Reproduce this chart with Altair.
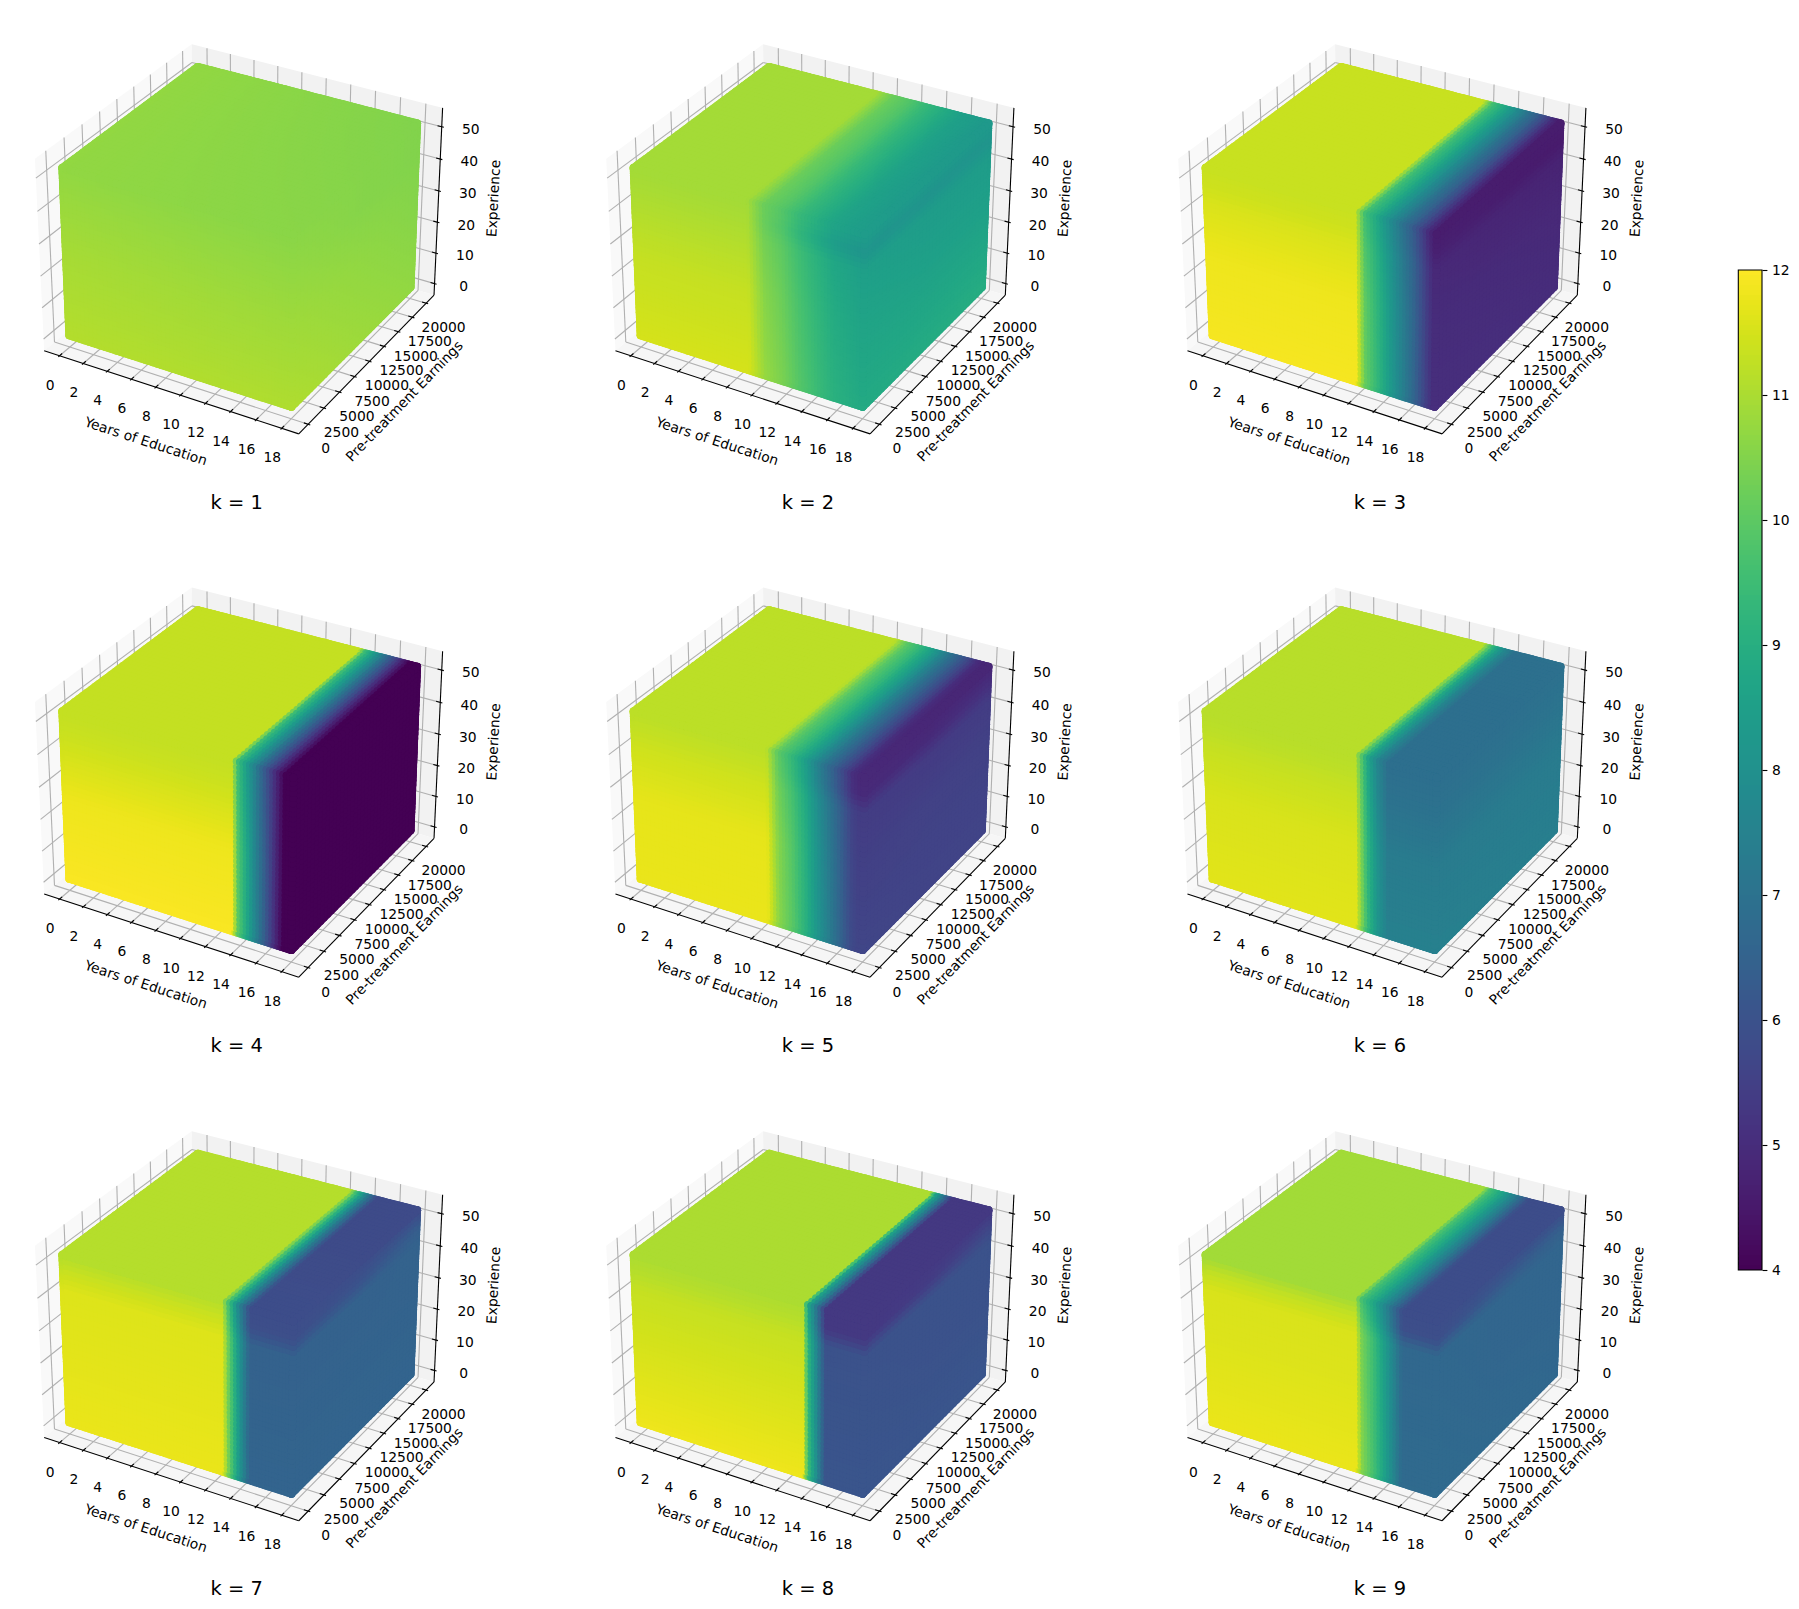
import numpy as np
import pandas as pd
import altair as alt

alt.data_transformers.disable_max_rows()

FONT = "DejaVu Sans"
KS = [1, 2, 3, 4, 5, 6, 7, 8, 9]
EDU_TICKS = [0, 2, 4, 6, 8, 10, 12, 14, 16, 18]
EARN_TICKS = [0, 2500, 5000, 7500, 10000, 12500, 15000, 17500, 20000]
EXP_TICKS = [0, 10, 20, 30, 40, 50]
CBAR_TICKS = [4, 5, 6, 7, 8, 9, 10, 11, 12]
EDU_MAX, EARN_MAX, EXP_MAX = 18, 20000, 52

# Share of the low-education level left at each education knot, one list per k
EDU_KNOTS = {
    1: [0, 18], 2: [0, 9.2, 10.5, 11.9, 13.2, 14.5, 15.9, 18],
    3: [0, 12, 12.7, 13.7, 15, 16.4, 17.6, 18],
    4: [0, 13.5, 14, 14.7, 15.6, 16.5, 17.2, 17.5, 18],
    5: [0, 10.7, 11.6, 12.7, 13.7, 14.8, 15.9, 17.2, 17.7, 18],
    6: [0, 12, 12.4, 12.9, 13.7, 14.5, 18], 7: [0, 12.8, 13.2, 13.6, 14.1, 14.9, 18],
    8: [0, 13.5, 13.9, 14.4, 15.2, 18], 9: [0, 12, 12.5, 13.5, 14.5, 15.6, 18],
}
EDU_SHARE = {
    1: [1, 0], 2: [1, 1, .717, .585, .396, .245, .094, 0],
    3: [1, 1, .745, .62, .44, .25, .045, 0],
    4: [1, 1, .75, .6, .4, .2, .05, 0, 0],
    5: [1, 1, .81, .70, .57, .39, .23, .03, 0, 0],
    6: [1, 1, .75, .46, .17, 0, 0], 7: [1, 1, .75, .56, .32, 0, 0],
    8: [1, 1, .6, .39, 0, 0], 9: [1, 1, .755, .55, .3, 0, 0],
}
EXP_KNOTS = [0, 26, 42, 47, 52]
EARN_KNOTS = [0, 10000, 20000]
# Level at low education, by experience knot
LOW_EDU = {
    1: [11.1, 10.95, 10.8, 10.75, 10.7], 2: [11.5, 11.3, 11.05, 10.98, 10.92],
    3: [11.9, 11.8, 11.55, 11.42, 11.35], 4: [11.95, 11.8, 11.45, 11.35, 11.3],
    5: [11.75, 11.7, 11.42, 11.3, 11.2], 6: [11.65, 11.55, 11.32, 11.2, 11.15],
    7: [11.75, 11.65, 11.6, 11.38, 11.12], 8: [11.8, 11.5, 11.32, 11.15, 11.02],
    9: [11.75, 11.6, 11.55, 11.3, 10.9],
}
# Level at high education: rows by experience knot, columns by earnings knot
HIGH_EDU = {
    1: [[11.05, 10.85, 10.7], [10.85, 10.7, 10.55], [10.7, 10.55, 10.5], [10.65, 10.55, 10.5], [10.6, 10.55, 10.5]],
    2: [[8.85, 8.9, 8.95], [8.65, 8.55, 8.55], [8.5, 8.4, 8.4], [8.15, 8.1, 8.15], [8.4, 8.35, 8.3]],
    3: [[5.05, 5.05, 5.0], [5.0, 4.95, 4.9], [4.9, 4.8, 4.75], [4.7, 4.6, 4.55], [4.6, 4.6, 4.6]],
    4: [[4, 4, 4], [4, 4, 4], [4, 4, 4], [4, 4, 4], [4, 4, 4]],
    5: [[5.65, 5.6, 5.6], [5.5, 5.55, 5.55], [5.4, 5.35, 5.4], [4.95, 4.95, 5.1], [4.9, 4.85, 4.85]],
    6: [[7.45, 7.4, 7.4], [7.3, 7.3, 7.3], [7.0, 7.0, 7.05], [6.95, 6.95, 7.0], [6.9, 6.9, 6.95]],
    7: [[6.55, 6.55, 6.55], [6.5, 6.5, 6.5], [6.45, 6.45, 6.5], [5.9, 6.0, 6.35], [5.85, 5.8, 5.8]],
    8: [[6.1, 6.1, 6.1], [6.05, 6.0, 6.0], [6.0, 6.0, 6.0], [5.3, 5.4, 5.7], [5.3, 5.3, 5.3]],
    9: [[6.75, 6.7, 6.65], [6.7, 6.6, 6.6], [6.65, 6.6, 6.6], [5.9, 6.2, 6.4], [5.85, 5.85, 5.85]],
}

# 3D view: elevation 30, azimuth -60, distance 10, box 4:4:3
MARGIN = 0.05 + 1.1 / 48
LIM = np.array([[-MARGIN * m, (1 + MARGIN) * m] for m in (EDU_MAX, EARN_MAX, EXP_MAX)])
DELTA = np.array([1.1 * m / 12 for m in (EDU_MAX, EARN_MAX, EXP_MAX)])
ASPECT = np.array([1.1905, 1.1905, 0.8929])
U = np.array([0.8660254, 0.5, 0.0])
V = np.array([-0.25, 0.4330127, 0.8660254])
W = np.array([0.4330127, -0.75, 0.5])
PX = 2450.0


def project(x, y, z):
    pts = [(np.asarray(c, float) - LIM[i, 0]) / (LIM[i, 1] - LIM[i, 0]) - 0.5 for i, c in enumerate((x, y, z))]
    p = [pts[i] * ASPECT[i] for i in range(3)]
    d = 10 - sum(W[i] * p[i] for i in range(3))
    return sum(U[i] * p[i] for i in range(3)) / d, sum(V[i] * p[i] for i in range(3)) / d, d


X0, X1, Y0, Y1, Z0, Z1 = LIM[0, 0], LIM[0, 1], LIM[1, 0], LIM[1, 1], LIM[2, 0], LIM[2, 1]


def pane(corners):
    xs, ys, _ = project(*zip(*corners))
    n = len(xs)
    rows = []
    for xv in sorted(xs):
        hits = []
        for i in range(n):
            a, b = i, (i + 1) % n
            lo, hi = min(xs[a], xs[b]), max(xs[a], xs[b])
            if lo - 1e-12 <= xv <= hi + 1e-12:
                t = 0 if hi - lo < 1e-12 else (xv - xs[a]) / (xs[b] - xs[a])
                hits.append(ys[a] + t * (ys[b] - ys[a]))
        rows.append({"X": xv, "T": max(hits), "B": min(hits)})
    return pd.DataFrame(rows)


def segments(pairs):
    rows = []
    for a, b in pairs:
        xa, ya, _ = project(*a)
        xb, yb, _ = project(*b)
        rows.append({"X": float(xa), "Y": float(ya), "X2": float(xb), "Y2": float(yb)})
    return pd.DataFrame(rows)


PANE_LEFT = pane([(X0, Y0, Z0), (X0, Y0, Z1), (X0, Y1, Z1), (X0, Y1, Z0)])
PANE_BACK = pane([(X0, Y1, Z0), (X0, Y1, Z1), (X1, Y1, Z1), (X1, Y1, Z0)])
PANE_FLOOR = pane([(X0, Y0, Z0), (X1, Y0, Z0), (X1, Y1, Z0), (X0, Y1, Z0)])

grid_pairs = []
for t in EDU_TICKS:
    grid_pairs += [((t, Y0, Z0), (t, Y1, Z0)), ((t, Y1, Z0), (t, Y1, Z1))]
for t in EARN_TICKS:
    grid_pairs += [((X1, t, Z0), (X0, t, Z0)), ((X0, t, Z0), (X0, t, Z1))]
for t in EXP_TICKS:
    grid_pairs += [((X0, Y0, t), (X0, Y1, t)), ((X0, Y1, t), (X1, Y1, t))]
GRID = segments(grid_pairs)

axis_pairs = [((X0, Y0, Z0), (X1, Y0, Z0)), ((X1, Y0, Z0), (X1, Y1, Z0)), ((X1, Y1, Z0), (X1, Y1, Z1))]
for t in EDU_TICKS:
    axis_pairs.append(((t, Y0 - 0.1 * DELTA[1], Z0), (t, Y0 + 0.2 * DELTA[1], Z0)))
for t in EARN_TICKS:
    axis_pairs.append(((X1 + 0.1 * DELTA[0], t, Z0), (X1 - 0.2 * DELTA[0], t, Z0)))
for t in EXP_TICKS:
    axis_pairs.append(((X1 + 0.1 * DELTA[0], Y1, t), (X1 - 0.2 * DELTA[0], Y1, t)))
AXES = segments(axis_pairs)


def labels(points, texts, off_x, off_y):
    """Text rows placed at projected 3D anchors, moved off the axis by a pixel offset."""
    xs, ys, _ = project(*zip(*points))
    return pd.DataFrame({"X": xs + off_x / PX, "Y": ys - off_y / PX, "t": texts})


EDU_LABELS = labels([(t, Y0, Z0) for t in EDU_TICKS], [str(t) for t in EDU_TICKS], -9.5, 30.0)
EARN_LABELS = labels([(X1, t, Z0) for t in EARN_TICKS], [str(t) for t in EARN_TICKS], 17.5, 25.0)
EXP_LABELS = labels([(X1, Y1, t) for t in EXP_TICKS], [str(t) for t in EXP_TICKS], 29.0, 3.3)
EDU_TITLE = labels([(0.5 * (X0 + X1), Y0, Z0)], ["Years of Education"], -22.4, 50.8)
EARN_TITLE = labels([(X1, 0.5 * (Y0 + Y1), Z0)], ["Pre-treatment Earnings"], 35.4, 40.3)
EXP_TITLE = labels([(X1, Y1, 0.5 * (Z0 + Z1))], ["Experience"], 56.0, -5.0)


def level(k, edu, earn, exp):
    share = np.interp(edu, EDU_KNOTS[k], EDU_SHARE[k])
    low = np.interp(exp, EXP_KNOTS, LOW_EDU[k])
    table = np.array(HIGH_EDU[k], float)
    cols = [np.interp(exp, EXP_KNOTS, table[:, j]) for j in range(3)]
    t = np.clip(earn / 10000.0, 0, 2)
    high = np.where(t < 1, cols[0] + (cols[1] - cols[0]) * t, cols[1] + (cols[2] - cols[1]) * (t - 1))
    return high + (low - high) * share


EDU_GRID = np.concatenate([np.linspace(0, 9, 27, endpoint=False), np.linspace(9, EDU_MAX, 37)])
EARN_GRID = np.linspace(0, EARN_MAX, 36)
EXP_GRID = np.linspace(0, EXP_MAX, 36)
EDGE_A = np.linspace(0, EDU_MAX, 120)
EDGE_B = np.linspace(0, EARN_MAX, 110)
EDGE_C = np.linspace(0, EXP_MAX, 100)


def cube(k):
    faces = []
    a, c = np.meshgrid(EDU_GRID, EXP_GRID)
    faces.append((a.ravel(), np.zeros(a.size), c.ravel()))
    b, c = np.meshgrid(EARN_GRID, EXP_GRID)
    faces.append((np.full(b.size, EDU_MAX), b.ravel(), c.ravel()))
    a, b = np.meshgrid(EDU_GRID, EARN_GRID)
    faces.append((a.ravel(), b.ravel(), np.full(a.size, EXP_MAX)))
    # silhouette edges of the block, sampled closely so that its outline stays straight
    faces.append((np.zeros(EDGE_C.size), np.zeros(EDGE_C.size), EDGE_C))
    faces.append((EDGE_A, np.zeros(EDGE_A.size), np.zeros(EDGE_A.size)))
    faces.append((np.full(EDGE_B.size, EDU_MAX), EDGE_B, np.zeros(EDGE_B.size)))
    faces.append((np.full(EDGE_C.size, EDU_MAX), np.full(EDGE_C.size, EARN_MAX), EDGE_C))
    faces.append((EDGE_A, np.full(EDGE_A.size, EARN_MAX), np.full(EDGE_A.size, EXP_MAX)))
    faces.append((np.zeros(EDGE_B.size), EDGE_B, np.full(EDGE_B.size, EXP_MAX)))
    edu, earn, exp = [np.concatenate(v) for v in zip(*faces)]
    xs, ys, d = project(edu, earn, exp)
    df = pd.DataFrame({"X": xs.round(5), "Y": ys.round(5), "d": d, "v": level(k, edu, earn, exp).round(3)})
    return df.sort_values("d", ascending=False)[["X", "Y", "v"]]


W_P, H_P = 540, 505
CENTER_X = [234.7, 234.0, 234.0]
CENTER_Y = [221.7, 221.0, 220.6]
COLOR = alt.Scale(scheme="viridis", domain=[4, 12])


def text(df, xs, ys, size=13.89, angle=0):
    return alt.Chart(df).mark_text(font=FONT, fontSize=size, color="black", align="center", baseline="middle",
                                   angle=angle).encode(
        x=alt.X("X:Q", scale=xs, axis=None), y=alt.Y("Y:Q", scale=ys, axis=None), text="t:N")


def panel(k, cx, cy):
    xs = alt.Scale(domain=[-cx / PX, (W_P - cx) / PX], nice=False, zero=False)
    ys = alt.Scale(domain=[(cy - H_P) / PX, cy / PX], nice=False, zero=False)

    def area(df, col):
        return alt.Chart(df).mark_area(color=col, opacity=1).encode(
            x=alt.X("X:Q", scale=xs, axis=None), y=alt.Y("T:Q", scale=ys, axis=None), y2="B:Q")

    def rules(df, col):
        return alt.Chart(df).mark_rule(color=col, strokeWidth=1.1).encode(
            x=alt.X("X:Q", scale=xs, axis=None), y=alt.Y("Y:Q", scale=ys, axis=None), x2="X2:Q", y2="Y2:Q")

    dots = alt.Chart(cube(k)).mark_circle(size=64, opacity=1, strokeWidth=0).encode(
        x=alt.X("X:Q", scale=xs, axis=None), y=alt.Y("Y:Q", scale=ys, axis=None),
        color=alt.Color("v:Q", scale=COLOR, legend=None))
    title = labels([(0.5 * (X0 + X1), 0.5 * (Y0 + Y1), 0.5 * (Z0 + Z1))], [f"k = {k}"], -6.0, 272.8)
    return alt.layer(
        area(PANE_LEFT, "#f9f9f9"), area(PANE_BACK, "#f2f2f2"), area(PANE_FLOOR, "#f6f6f6"),
        rules(GRID, "#b0b0b0"), rules(AXES, "black"), dots,
        text(EDU_LABELS, xs, ys), text(EARN_LABELS, xs, ys), text(EXP_LABELS, xs, ys),
        text(EDU_TITLE, xs, ys, angle=18), text(EARN_TITLE, xs, ys, angle=314),
        text(EXP_TITLE, xs, ys, angle=273), text(title, xs, ys, size=19.44),
    ).properties(width=W_P, height=H_P)


rows = []
for r in range(3):
    rows.append(alt.hconcat(*[panel(KS[3 * r + c], CENTER_X[c], CENTER_Y[r]) for c in range(3)], spacing=32))
grid = alt.vconcat(*rows, spacing=39)

levels = np.linspace(4, 12, 201)
step = levels[1] - levels[0]
cbar_df = pd.DataFrame({"lo": levels[:-1], "hi": np.minimum(levels[:-1] + 1.6 * step, 12), "v": levels[:-1] + step / 2})
cy_scale = alt.Scale(domain=[4, 12], range=[1262, 262], nice=False, zero=False)
cbar_fill = alt.Chart(cbar_df).mark_rect().encode(
    x=alt.value(14.3), x2=alt.value(38),
    y=alt.Y("lo:Q", scale=cy_scale, axis=alt.Axis(orient="right", values=CBAR_TICKS, title=None, grid=False, domain=False,
                                                 tickSize=4.9, tickWidth=1.1, tickColor="black", labelFont=FONT,
                                                 labelFontSize=13.89, labelColor="black", labelPadding=4.5, format="d")),
    y2="hi:Q", color=alt.Color("v:Q", scale=COLOR, legend=None))
cbar_box = alt.Chart(pd.DataFrame({"lo": [4], "hi": [12]})).mark_rect(filled=False, stroke="black", strokeWidth=1.1).encode(
    x=alt.value(14.3), x2=alt.value(38), y=alt.Y("lo:Q", scale=cy_scale), y2="hi:Q")
cbar = alt.layer(cbar_fill, cbar_box).properties(width=38, height=1500)

chart = alt.hconcat(grid, cbar, spacing=32).properties(padding=0).configure_view(strokeWidth=0)
chart.save("out.html", embed_options={"renderer": "svg", "actions": False})
